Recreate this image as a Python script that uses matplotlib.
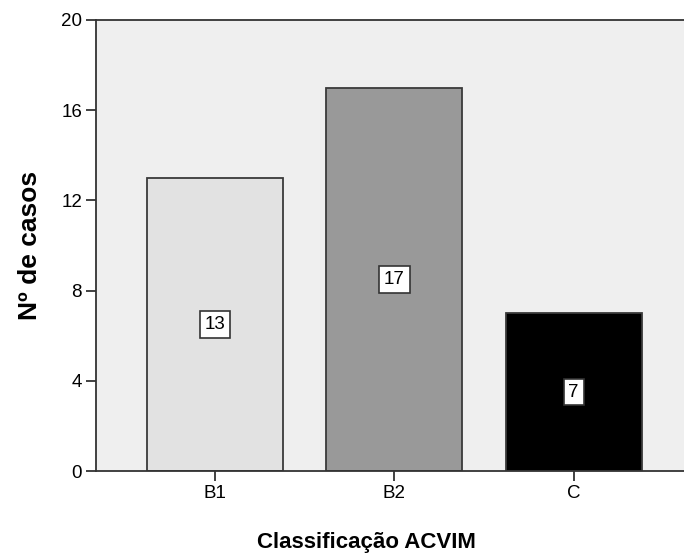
import matplotlib
matplotlib.use("Agg")
import matplotlib.pyplot as plt

categories = ["B1", "B2", "C"]
counts = [13, 17, 7]
bar_colors = ["#e2e2e2", "#999999", "#000000"]
yticks = [0, 4, 8, 12, 16, 20]

plt.rcParams["font.family"] = ["Liberation Sans", "DejaVu Sans"]

fig = plt.figure(figsize=(6.84, 5.6), dpi=100)
# plot area runs past the right edge of the picture, as in the reference
ax = fig.add_axes([96 / 684, 89 / 560, 595 / 684, 451 / 560])
ax.set_facecolor("#efefef")

x = list(range(len(categories)))
ax.bar(x, counts, width=0.76, color=bar_colors, edgecolor="#3a3a3a", linewidth=1.3, zorder=2)

for xi, v in zip(x, counts):
    ax.text(xi, v / 2, str(v), ha="center", va="center", fontsize=13.5, zorder=3,
            bbox=dict(boxstyle="square,pad=0.25", fc="white", ec="#333333", lw=1.2))

ax.set_xlim(-0.665, 2.655)
ax.set_ylim(0, 20)
ax.set_xticks(x)
ax.set_xticklabels(categories, fontsize=13.5)
ax.set_yticks(yticks)
ax.set_yticklabels([str(t) for t in yticks], fontsize=13.5)
ax.tick_params(axis="both", direction="out", length=7, width=1.3, color="#333333", pad=3)

for side in ["left", "bottom", "top"]:
    ax.spines[side].set_color("#333333")
    ax.spines[side].set_linewidth(1.3)
ax.spines["right"].set_visible(False)

ax.set_xlabel("Classificação ACVIM", fontsize=16, fontweight="bold", labelpad=26)
ax.xaxis.set_label_coords(0.454, -0.135)
ax.set_ylabel("Nº de casos", fontsize=19, fontweight="bold", labelpad=14)

fig.savefig("out.png", dpi=100)
